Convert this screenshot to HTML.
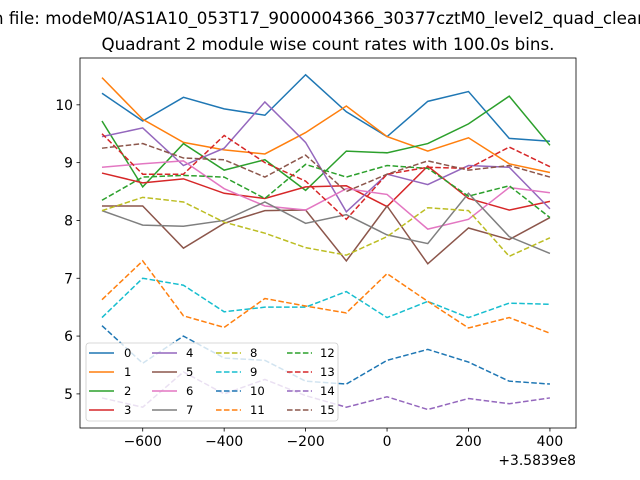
<!DOCTYPE html>
<html><head><meta charset="utf-8"><style>
body{margin:0;background:#fff}
svg{display:block;font-family:"DejaVu Sans","Liberation Sans",sans-serif}
</style></head><body>
<svg id="chart" width="640" height="480" viewBox="0 0 640 480" xmlns="http://www.w3.org/2000/svg">
<rect width="640" height="480" fill="#fff"/>
<text x="-7" y="24" font-size="16.7" fill="#000">n file: modeM0/AS1A10_053T17_9000004366_30377cztM0_level2_quad_clean.evt</text>
<text x="328" y="50" font-size="16.7" text-anchor="middle" fill="#000">Quadrant 2 module wise count rates with 100.0s bins.</text>
<g id="plot"></g>
<g id="axes"></g>
<g id="legend"></g>
</svg>
<script>
const xValues=[-700,-600,-500,-400,-300,-200,-100,0,100,200,300,400];
const s0=[10.2,9.72,10.13,9.93,9.82,10.52,9.88,9.45,10.06,10.23,9.42,9.37];
const s1=[10.47,9.75,9.35,9.22,9.15,9.52,9.98,9.45,9.2,9.43,8.98,8.83];
const s2=[9.72,8.58,9.33,8.87,9.05,8.52,9.2,9.17,9.33,9.67,10.15,9.3];
const s3=[8.82,8.65,8.72,8.47,8.38,8.58,8.6,8.24,8.94,8.38,8.18,8.33];
const s4=[9.45,9.6,8.95,9.25,10.05,9.35,8.15,8.8,8.62,8.95,8.92,8.2];
const s5=[8.25,8.25,7.52,7.95,8.17,8.18,7.3,8.25,7.25,7.87,7.67,8.05];
const s6=[8.92,8.98,9.03,8.55,8.25,8.18,8.55,8.45,7.85,8.02,8.57,8.48];
const s7=[8.17,7.92,7.9,8.0,8.32,7.95,8.1,7.75,7.6,8.47,7.72,7.43];
const s8=[8.17,8.4,8.32,7.97,7.78,7.53,7.4,7.72,8.22,8.17,7.38,7.7];
const s9=[6.32,7.0,6.88,6.42,6.5,6.5,6.77,6.32,6.6,6.32,6.57,6.55];
const s10=[6.18,5.53,6.0,5.62,5.58,5.22,5.17,5.58,5.77,5.55,5.22,5.17];
const s11=[6.63,7.3,6.35,6.15,6.65,6.52,6.4,7.08,6.6,6.14,6.32,6.05];
const s12=[8.35,8.75,8.78,8.75,8.38,8.97,8.75,8.95,8.9,8.42,8.6,8.05];
const s13=[9.5,8.8,8.8,9.47,9.0,8.68,8.02,8.8,8.92,8.9,9.27,8.93];
const s14=[4.93,4.77,5.38,5.0,5.25,4.97,4.77,4.95,4.73,4.92,4.83,4.93];
const s15=[9.25,9.33,9.08,9.05,8.75,9.13,8.5,8.8,9.03,8.87,8.95,8.75];
const seriesLabels=["0","1","2","3","4","5","6","7","8","9","10","11","12","13","14","15"];
const xTicks=[-600,-400,-200,0,200,400];
const xTickLabels=["\u2212600","\u2212400","\u2212200","0","200","400"];
const yTicks=[5,6,7,8,9,10];
const yTickLabels=["5","6","7","8","9","10"];

const allSeries=[s0,s1,s2,s3,s4,s5,s6,s7,s8,s9,s10,s11,s12,s13,s14,s15];
const colors=["#1f77b4","#ff7f0e","#2ca02c","#d62728","#9467bd","#8c564b","#e377c2","#7f7f7f","#bcbd22","#17becf"];
const L=80,R=576,T=58,B=428;
const X0=-754,X1=464,Y0=4.41,Y1=10.81;
function xs(v){return L+(v-X0)/(X1-X0)*(R-L);}
function ys(v){return B-(v-Y0)/(Y1-Y0)*(B-T);}
const NS="http://www.w3.org/2000/svg";
function mk(tag,attrs){const e=document.createElementNS(NS,tag);for(const k in attrs)e.setAttribute(k,attrs[k]);return e;}
const plot=document.getElementById('plot');
allSeries.forEach((s,i)=>{
  const d=s.map((v,j)=>(j?'L':'M')+xs(xValues[j]).toFixed(2)+' '+ys(v).toFixed(2)).join(' ');
  const p=mk('path',{d:d,fill:'none',stroke:colors[i%10],'stroke-width':1.5});
  if(i>=8)p.setAttribute('stroke-dasharray','5.55 2.4');
  
  
  plot.appendChild(p);
});
const axes=document.getElementById('axes');
const frame=mk('rect',{x:L,y:T,width:R-L,height:B-T,fill:'none',stroke:'#000','stroke-width':0.8});


axes.appendChild(frame);
xTicks.forEach((t,i)=>{
  const x=xs(t);
  axes.appendChild(mk('line',{x1:x,x2:x,y1:B,y2:B+3.5,stroke:'#000','stroke-width':0.8}));
  const tx=mk('text',{x:x,y:B+18,'font-size':13.9,'text-anchor':'middle',fill:'#000'});
  tx.textContent=xTickLabels[i];
  
  
  axes.appendChild(tx);
});
yTicks.forEach((t,i)=>{
  const y=ys(t);
  axes.appendChild(mk('line',{x1:L-3.5,x2:L,y1:y,y2:y,stroke:'#000','stroke-width':0.8}));
  const tx=mk('text',{x:L-7,y:y+5,'font-size':13.9,'text-anchor':'end',fill:'#000'});
  tx.textContent=yTickLabels[i];
  
  
  axes.appendChild(tx);
});
const off=mk('text',{x:R,y:465,'font-size':13.9,'text-anchor':'end',fill:'#000'});
off.textContent='+3.5839e8';


axes.appendChild(off);
const lg=document.getElementById('legend');
const box=mk('rect',{x:86,y:343,width:252,height:78,rx:3,fill:'#fff','fill-opacity':0.8,stroke:'#ccc','stroke-width':0.8});


lg.appendChild(box);
const colX=[89,152,216,287];
seriesLabels.forEach((lab,i)=>{
  const c=Math.floor(i/4),r=i%4;
  const x=colX[c],y=353+r*19;
  const g=mk('g',{});
  
  
  const ln=mk('line',{x1:x,x2:x+25,y1:y,y2:y,stroke:colors[i%10],'stroke-width':1.5});
  if(i>=8)ln.setAttribute('stroke-dasharray','5.55 2.4');
  g.appendChild(ln);
  const t=mk('text',{x:x+(c===0?35:c===1?34:c===2?34:33),y:y+4,'font-size':11.6,fill:'#000'});
  t.textContent=lab;
  g.appendChild(t);
  lg.appendChild(g);
});
</script>
</body></html>
